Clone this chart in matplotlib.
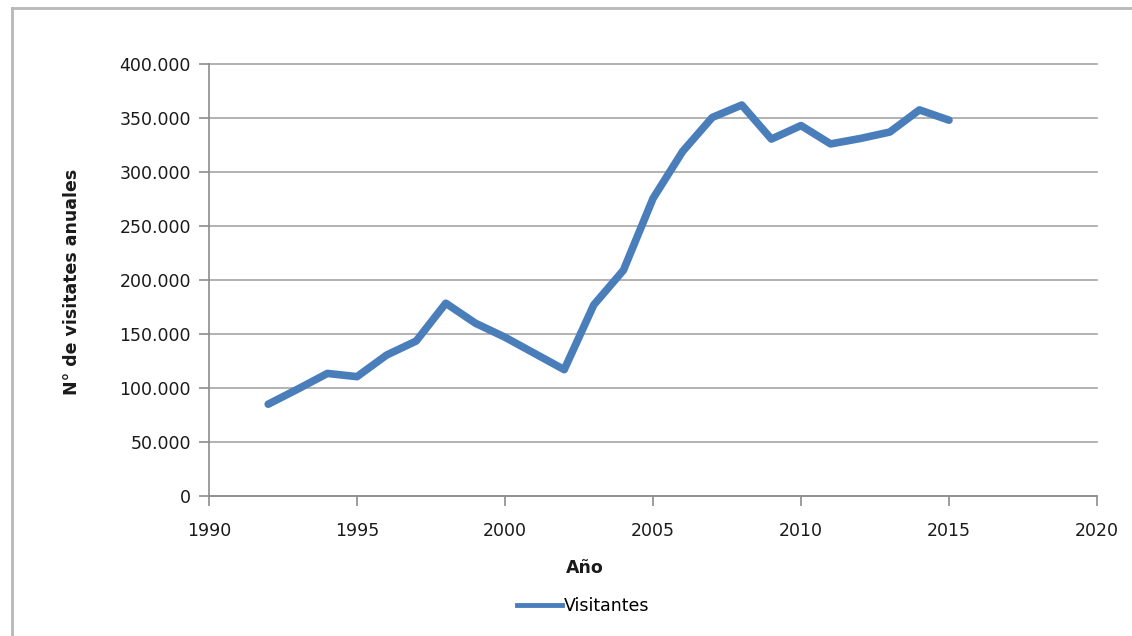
import matplotlib
matplotlib.use('Agg')
from matplotlib import pyplot
from matplotlib.lines import Line2D
from matplotlib.ticker import FuncFormatter

years = [1992, 1993, 1994, 1995, 1996, 1997, 1998, 1999, 2000, 2001,
         2002, 2003, 2004, 2005, 2006, 2007, 2008, 2009, 2010, 2011,
         2012, 2013, 2014, 2015]
visitantes = [85000, 99000, 113500, 110500, 130500, 143500, 178500, 160000,
              147000, 132000, 117000, 177000, 209000, 275500, 319000, 350500,
              362000, 330500, 343000, 326000, 331000, 337000, 357500, 348000]

x_ticks = [1990, 1995, 2000, 2005, 2010, 2015, 2020]
y_ticks = [0, 50000, 100000, 150000, 200000, 250000, 300000, 350000, 400000]

pyplot.rcParams['font.family'] = 'DejaVu Sans'

fig = pyplot.figure(figsize=(11.32, 6.36), dpi=100)
W, H = 1132, 636
ax = fig.add_axes([209 / W, 1 - 496 / H, (1097 - 209) / W, (496 - 64) / H])

ax.plot(years, visitantes, color='#4a7ebb', linewidth=5.5,
        solid_joinstyle='round', solid_capstyle='round', label='Visitantes')

ax.set_xlim(1990, 2020)
ax.set_ylim(0, 400000)
ax.set_xticks(x_ticks)
ax.set_yticks(y_ticks)
ax.yaxis.set_major_formatter(
    FuncFormatter(lambda v, p: f'{int(v):,}'.replace(',', '.')))

ax.grid(axis='y', color='#a6a6a6', linewidth=1.2)
for gl in ax.yaxis.get_gridlines():
    gl.set_clip_on(False)
ax.set_axisbelow(True)
for side in ('top', 'right'):
    ax.spines[side].set_visible(False)
for side in ('left', 'bottom'):
    ax.spines[side].set_color('#8c8c8c')
    ax.spines[side].set_linewidth(1.2)
ax.tick_params(axis='both', colors='#8c8c8c', length=7, width=1.2,
               labelsize=12.5, labelcolor='#1a1a1a')
ax.tick_params(axis='x', pad=12)
ax.tick_params(axis='y', pad=6)

fig.text(585 / W, 1 - 568 / H, 'Año', ha='center', va='center',
         fontsize=12.5, fontweight='bold', color='#1a1a1a')
fig.text(72 / W, 1 - 282 / H, 'N° de visitates anuales', ha='center',
         va='center', rotation=90, fontsize=12.5, fontweight='bold',
         color='#1a1a1a')

fig.legend(handles=[Line2D([], [], color='#4a7ebb', linewidth=3.5)],
           labels=['Visitantes'], loc='center', frameon=False,
           bbox_to_anchor=(583 / W, 1 - 606 / H), fontsize=12.5,
           handlelength=2.6, handletextpad=0.1)

# outer chart frame
fig.add_artist(Line2D([12 / W, 12 / W], [0, 1 - 8 / H], color='#b8b8b8',
                      linewidth=2, transform=fig.transFigure))
fig.add_artist(Line2D([12 / W, 1], [1 - 8 / H, 1 - 8 / H], color='#b8b8b8',
                      linewidth=2, transform=fig.transFigure))

fig.savefig('out.png', dpi=100)
pyplot.close()
